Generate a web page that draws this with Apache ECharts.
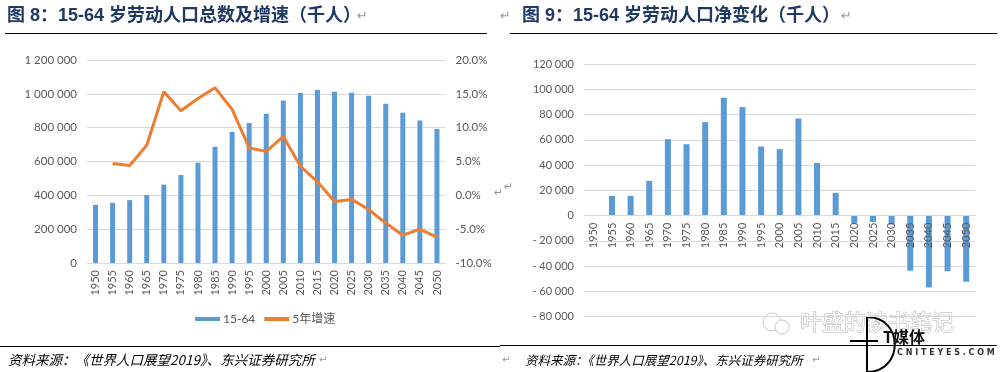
<!DOCTYPE html>
<html>
<head>
<meta charset="utf-8">
<script src="https://cdn.jsdelivr.net/npm/echarts@6/dist/echarts.min.js"></script>
<style>html,body{margin:0;padding:0;background:#fff;}#c{width:1000px;height:372px;}</style>
</head>
<body>
<div id="c"></div>
<script>
const years = ['1950','1955','1960','1965','1970','1975','1980','1985','1990','1995','2000','2005','2010','2015','2020','2025','2030','2035','2040','2045','2050'];
const workforce = [343000, 356000, 372000, 402000, 463000, 520000, 593000, 687000, 774000, 827000, 883000, 961000, 1005000, 1022000, 1012000, 1007000, 988000, 941000, 888000, 843000, 792000];
const growth5y = [null, 4.7, 4.4, 7.4, 15.3, 12.5, 14.3, 15.9, 12.7, 7.0, 6.5, 8.7, 4.3, 2.0, -0.9, -0.6, -2.1, -4.1, -5.9, -5.0, -6.2];
const netChange = [null, 15600, 15600, 27500, 60500, 56500, 74000, 93300, 85900, 54700, 52600, 76900, 41700, 18000, -6000, -5000, -7000, -43600, -56800, -44000, -52300];
const title1 = '图 8：15-64 岁劳动人口总数及增速（千人）';
const title2 = '图 9：15-64 岁劳动人口净变化（千人）';
const sourceText = '资料来源：《世界人口展望2019》、东兴证券研究所';
const seriesNames = ['15-64', '5年增速'];

const AX = 'Lato, "Noto Sans CJK SC", sans-serif';
const GRAY = '#595959';
const GRID = '#D9D9D9';
function sp(n){ return String(Math.abs(n)).replace(/\B(?=(\d{3})+(?!\d))/g, ' '); }

// right chart geometry (zero line position for its category labels)
const R_TOP = 64, R_BOTTOM = 55.3, R_MIN = -80000, R_MAX = 120000;
const rZeroY = R_TOP + (R_MAX / (R_MAX - R_MIN)) * (372 - R_TOP - R_BOTTOM);

const chart = echarts.init(document.getElementById('c'), null, {renderer:'canvas'});
chart.setOption({
  animation: false,
  backgroundColor: '#fff',
  grid: [
    {left: 87, right: 554.5, top: 60, bottom: 109},
    {left: 584, right: 24.5, top: R_TOP, bottom: R_BOTTOM},
    {left: 584, right: 24.5, top: R_TOP, bottom: 372 - rZeroY}
  ],
  legend: {
    left: 190, top: 308, itemWidth: 25, itemHeight: 4, itemGap: 9,
    textStyle: {fontFamily: AX, fontSize: 12, color: GRAY, padding: [0,0,0,-2]},
    data: [{name: seriesNames[0], icon: 'rect'}, {name: seriesNames[1], icon: 'rect'}]
  },
  xAxis: [
    {type:'category', gridIndex:0, data: years, boundaryGap: true,
     axisLine:{lineStyle:{color:GRID}}, axisTick:{show:false},
     axisLabel:{rotate:90, interval:0, margin:7, fontFamily:AX, fontSize:11, color:GRAY}},
    {type:'category', gridIndex:1, data: years, boundaryGap: true,
     axisLine:{show:false}, axisTick:{show:false}, axisLabel:{show:false}},
    {type:'category', gridIndex:2, data: years, boundaryGap: true, z: 10,
     axisLine:{show:true, lineStyle:{color:GRID}}, axisTick:{show:false},
     axisLabel:{rotate:90, interval:0, margin:7, fontFamily:AX, fontSize:11, color:GRAY}}
  ],
  yAxis: [
    {type:'value', gridIndex:0, min:0, max:1200000, interval:200000,
     axisLine:{show:false}, axisTick:{show:false},
     splitLine:{lineStyle:{color:GRID}},
     axisLabel:{margin:10, fontFamily:AX, fontSize:11.5, color:GRAY, formatter: v => sp(v)}},
    {type:'value', gridIndex:0, min:-10, max:20, interval:5, position:'right',
     axisLine:{show:false}, axisTick:{show:false}, splitLine:{show:false},
     axisLabel:{margin:10, fontFamily:AX, fontSize:11.5, color:GRAY, formatter: v => v.toFixed(1) + '%'}},
    {type:'value', gridIndex:1, min:R_MIN, max:R_MAX, interval:20000,
     axisLine:{show:false}, axisTick:{show:false},
     splitLine:{lineStyle:{color:GRID}},
     axisLabel:{margin:10, fontFamily:AX, fontSize:11, color:GRAY, formatter: v => (v < 0 ? '- ' : '') + sp(v)}},
    {type:'value', gridIndex:2, min:0, max:1, show:false}
  ],
  series: [
    {name: seriesNames[0], type:'bar', xAxisIndex:0, yAxisIndex:0, data: workforce, barWidth:5,
     itemStyle:{color:'#5B9BD5'}},
    {name: seriesNames[1], type:'line', xAxisIndex:0, yAxisIndex:1, data: growth5y, showSymbol:false,
     symbol:'none', lineStyle:{color:'#ED7D31', width:3}, itemStyle:{color:'#ED7D31'}, z:5},
    {name: 'net', type:'bar', xAxisIndex:1, yAxisIndex:2, data: netChange, barWidth:6,
     itemStyle:{color:'#5B9BD5'}}
  ],
  graphic: [
    {type:'text', x:7, y:16, style:{text:title1, font:'bold 18px "Liberation Sans", "Noto Sans CJK SC", sans-serif', fill:'#1F3864', verticalAlign:'middle'}},
    {type:'text', x:357, y:17, style:{text:'↵', font:'13px "DejaVu Sans", sans-serif', fill:'#999', verticalAlign:'middle'}},
    {type:'line', shape:{x1:5, y1:33.5, x2:487, y2:33.5}, style:{stroke:'#000', lineWidth:1.2}},
    {type:'text', x:522, y:16, style:{text:title2, font:'bold 18px "Liberation Sans", "Noto Sans CJK SC", sans-serif', fill:'#1F3864', verticalAlign:'middle'}},
    {type:'text', x:500, y:17, style:{text:'↵', font:'13px "DejaVu Sans", sans-serif', fill:'#999', verticalAlign:'middle'}},
    {type:'text', x:841, y:17, style:{text:'↵', font:'13px "DejaVu Sans", sans-serif', fill:'#999', verticalAlign:'middle'}},
    {type:'line', shape:{x1:510, y1:33.5, x2:997, y2:33.5}, style:{stroke:'#000', lineWidth:1.2}},
    {type:'text', x:494, y:193, style:{text:'↵', font:'11px "DejaVu Sans", sans-serif', fill:'#999', verticalAlign:'middle'}},
    {type:'text', x:504, y:187, style:{text:'↵', font:'11px "DejaVu Sans", sans-serif', fill:'#999', verticalAlign:'middle'}},
    {type:'line', shape:{x1:0, y1:346.5, x2:500, y2:346.5}, style:{stroke:'#000', lineWidth:1}},
    {type:'line', shape:{x1:500, y1:345.5, x2:997, y2:345.5}, style:{stroke:'#000', lineWidth:1}},
    {type:'text', x:8, y:360, style:{text:sourceText, font:'italic 13.5px "Noto Sans CJK SC", sans-serif', fill:'#000', verticalAlign:'middle'}},
    {type:'text', x:319, y:360, style:{text:'↵', font:'10px "DejaVu Sans", sans-serif', fill:'#999', verticalAlign:'middle'}},
    {type:'text', x:502, y:360, style:{text:'↵', font:'10px "DejaVu Sans", sans-serif', fill:'#999', verticalAlign:'middle'}},
    {type:'text', x:525, y:360, style:{text:sourceText, font:'italic 12.5px "Noto Sans CJK SC", sans-serif', fill:'#000', verticalAlign:'middle'}},
    {type:'text', x:812, y:360, style:{text:'↵', font:'10px "DejaVu Sans", sans-serif', fill:'#999', verticalAlign:'middle'}},
    // watermark
    {type:'text', x:800, y:322, style:{text:'叶盛的读书笔记', font:'22px "Noto Sans CJK SC", sans-serif', fill:'#fff', stroke:'#b0b0b0', lineWidth:1, verticalAlign:'middle'}},
    {type:'circle', shape:{cx:772, cy:322, r:9}, style:{fill:'none', stroke:'#c8c8c8', lineWidth:1}},
    {type:'circle', shape:{cx:782, cy:327, r:7}, style:{fill:'#fff', stroke:'#c8c8c8', lineWidth:1}},
    {type:'line', shape:{x1:867, y1:317, x2:867, y2:372}, style:{stroke:'#000', lineWidth:2}},
    {type:'bezierCurve', shape:{x1:867, y1:317, cpx1:904, cpy1:317, cpx2:904, cpy2:372, x2:867, y2:372}, style:{stroke:'#000', lineWidth:2, fill:null}},
    {type:'line', shape:{x1:850, y1:341, x2:878, y2:341}, style:{stroke:'#000', lineWidth:2}},
    {type:'text', x:883, y:337, style:{text:'T媒体', font:'bold 16px "Noto Sans CJK SC", sans-serif', fill:'#111', verticalAlign:'middle'}},
    {type:'text', x:897, y:353, style:{text:'C N I T E Y E S . C O M', font:'bold 8px "DejaVu Sans", sans-serif', fill:'#333', verticalAlign:'middle'}}
  ]
});
</script>
</body>
</html>
